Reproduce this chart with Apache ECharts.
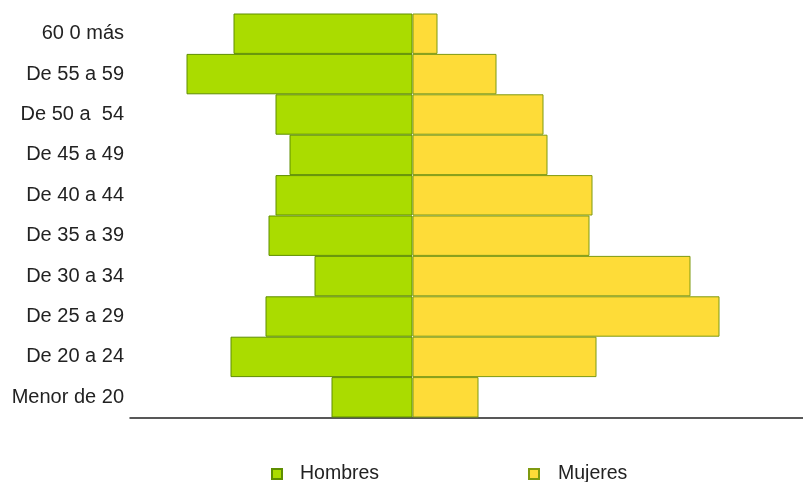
<!DOCTYPE html>
<html>
<head>
<meta charset="utf-8">
<script src="https://cdn.jsdelivr.net/npm/echarts@6/dist/echarts.min.js"></script>
<style>
    html, body { margin: 0; padding: 0; background: #fff; }
    #chart { width: 803px; height: 482px; }
</style>
</head>
<body>
<div id="chart"></div>
<script>
    // grupos de edad, de arriba hacia abajo
    var grupos = ['60 0 más', 'De 55 a 59', 'De 50 a  54', 'De 45 a 49', 'De 40 a 44',
        'De 35 a 39', 'De 30 a 34', 'De 25 a 29', 'De 20 a 24', 'Menor de 20'];
    var hombres = [179, 226, 137, 123, 137, 144, 98, 147, 182, 81];
    var mujeres = [25, 84, 131, 135, 180, 177, 278, 307, 184, 66];

    var chart = echarts.init(document.getElementById('chart'));
    chart.setOption({
        animation: false,
        textStyle: { fontFamily: 'Liberation Sans, Arial, sans-serif' },
        grid: { left: 130, right: 0, top: 13.5, height: 404 },
        legend: [
            {
                data: ['Hombres'], left: 271, top: 464, padding: 0, icon: 'rect',
                itemWidth: 10, itemHeight: 10, itemGap: 0,
                textStyle: { fontSize: 19.5, color: '#222', padding: [0, 0, 0, 13] }
            },
            {
                data: ['Mujeres'], left: 528, top: 464, padding: 0, icon: 'rect',
                itemWidth: 10, itemHeight: 10, itemGap: 0,
                textStyle: { fontSize: 19.5, color: '#222', padding: [0, 0, 0, 14] }
            }
        ],
        xAxis: {
            type: 'value',
            min: -282.5,
            max: 390.5,
            axisLine: { show: true, onZero: false, lineStyle: { color: '#222', width: 1.5 } },
            axisTick: { show: false },
            axisLabel: { show: false },
            splitLine: { show: false }
        },
        yAxis: {
            type: 'category',
            inverse: true,
            data: grupos,
            axisLine: { show: false },
            axisTick: { show: false },
            axisLabel: { margin: 6, fontSize: 20, color: '#222' }
        },
        series: [
            {
                name: 'Hombres',
                type: 'bar',
                stack: 'total',
                barWidth: '100%',
                data: hombres.map(function (v) { return -v; }),
                itemStyle: { color: '#aadc00', borderColor: '#5e8e00', borderWidth: 1 }
            },
            {
                name: 'Mujeres',
                type: 'bar',
                stack: 'total',
                barWidth: '100%',
                data: mujeres,
                itemStyle: { color: '#fedc38', borderColor: '#7f9a10', borderWidth: 1 }
            }
        ]
    });
</script>
</body>
</html>
